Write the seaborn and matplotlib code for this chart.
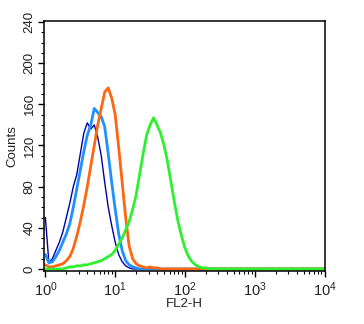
import numpy as np
import pandas as pd
import matplotlib
matplotlib.use("Agg")
import matplotlib.pyplot as plt
import matplotlib.ticker as mticker
import seaborn as sns

# Channel positions on the log scale (log10 of FL2-H), 0.05-decade steps
fl2_log = np.round(np.arange(0, 4.0001, 0.05), 2)

# Event counts per channel, starting at FL2-H = 10^0
isotype_navy = [50, 6, 10, 18, 26, 36, 50, 64, 80, 92, 112, 132, 142, 136, 140,
                128, 110, 84, 60, 42, 26, 14, 7, 3, 1, 0]
control_blue = [14, 6, 7, 12, 18, 26, 34, 44, 60, 78, 96, 114, 130, 140, 156,
                152, 148, 138, 112, 84, 58, 34, 18, 8, 4, 2, 1, 0]
secondary_orange = [4, 2, 2, 3, 4, 5, 8, 12, 20, 32, 46, 62, 80, 100, 120, 140,
                    156, 172, 176, 166, 150, 118, 84, 50, 22, 10, 5, 3, 2, 1,
                    2, 1, 1, 0]
stained_green = [0, 0, 0, 0, 0, 0, 1, 2, 2, 3, 3, 4, 4, 5, 6, 7, 8, 10, 12, 14,
                 18, 24, 30, 38, 46, 58, 72, 92, 112, 130, 140, 147, 140, 132,
                 120, 104, 84, 64, 46, 32, 20, 12, 7, 4, 2, 1, 1, 0]

series = [
    ("isotype", isotype_navy, "#0000A8", 1.0),
    ("control", control_blue, "#1E90FF", 2.0),
    ("secondary", secondary_orange, "#FF6611", 2.0),
    ("stained", stained_green, "#2EF02E", 2.0),
]

frames = []
for name, counts, _, _ in series:
    full = list(counts) + [0] * (len(fl2_log) - len(counts))
    frames.append(pd.DataFrame({"FL2-H": 10 ** fl2_log, "Counts": full,
                                "sample": name}))
df = pd.concat(frames, ignore_index=True)

sns.set_style("ticks")
plt.rcParams["font.family"] = ["Liberation Sans", "DejaVu Sans"]
plt.rcParams["mathtext.fontset"] = "custom"
plt.rcParams["mathtext.rm"] = "Liberation Sans"
plt.rcParams["mathtext.it"] = "Liberation Sans"
plt.rcParams["mathtext.default"] = "regular"

fig = plt.figure(figsize=(3.64, 3.24), dpi=100)
ax = fig.add_axes([44 / 364, 53 / 324, 281 / 364, 250 / 324])

for name, _, color, lw in series:
    sns.lineplot(data=df[df["sample"] == name], x="FL2-H", y="Counts",
                 color=color, linewidth=lw, estimator=None, sort=False, ax=ax)

ax.set_xscale("log")
ax.set_xlim(10 ** -0.02, 10 ** 4.005)
ax.set_ylim(-2, 241)

ax.yaxis.set_major_locator(mticker.MultipleLocator(40))
ax.yaxis.set_minor_locator(mticker.MultipleLocator(10))
ax.xaxis.set_major_locator(mticker.LogLocator(base=10, numticks=10))
ax.xaxis.set_minor_locator(mticker.LogLocator(base=10, subs=np.arange(2, 10),
                                              numticks=10))
ax.xaxis.set_minor_formatter(mticker.NullFormatter())

for lbl in ax.get_yticklabels():
    lbl.set_rotation(90)
    lbl.set_va("center")

ax.tick_params(axis="both", which="major", length=4, width=1, color="black",
               labelsize=9.5, labelcolor="#222222", pad=2)
ax.tick_params(axis="both", which="minor", length=2.5, width=0.8, color="black")
ax.tick_params(axis="x", which="major", labelsize=10.5, pad=3)

for sp in ax.spines.values():
    sp.set_visible(True)
    sp.set_linewidth(1.1)
    sp.set_color("black")

ax.set_xlabel("FL2-H", fontsize=9.5, color="#222222", labelpad=-1)
ax.set_ylabel("Counts", fontsize=9.5, color="#222222", labelpad=4)

fig.savefig("out.png", dpi=100)
